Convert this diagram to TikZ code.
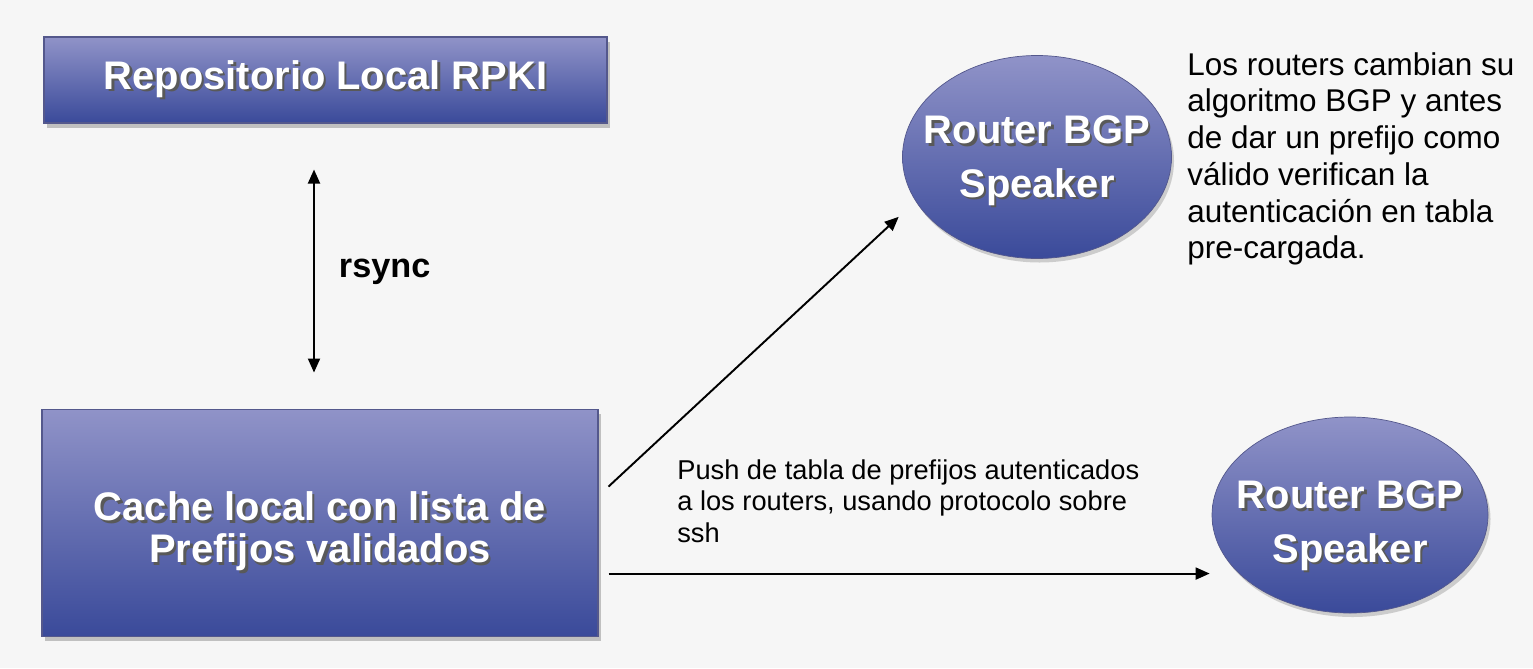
\documentclass[tikz,border=0pt]{standalone}
\usepackage{fontspec}
\setmainfont{Liberation Sans}
\usepackage{tikz}
\usetikzlibrary{shapes.geometric, arrows.meta, positioning, shadows}
\definecolor{boxtop}{RGB}{144,147,200}
\definecolor{boxbottom}{RGB}{58,74,154}
\definecolor{boxline}{RGB}{84,88,140}
\definecolor{bgcolor}{RGB}{246,246,246}
\newcommand{\shtx}[1]{\leavevmode\rlap{\kern0.06em\raisebox{-0.06em}{\color{black!65}#1}}#1}

\begin{document}
\begin{tikzpicture}[
    block/.style={draw=boxline, line width=0.6pt, top color=boxtop, bottom color=boxbottom, drop shadow={shadow xshift=0.05cm, shadow yshift=-0.09cm, opacity=0.45}, text=white, font=\bfseries\fontsize{22.7}{24}\selectfont, align=center},
    router/.style={ellipse, draw=boxline, line width=0.4pt, top color=boxtop, bottom color=boxbottom, drop shadow={shadow xshift=0.05cm, shadow yshift=-0.08cm, opacity=0.35}, inner sep=0pt},
    rtext/.style={text=white, font=\bfseries\fontsize{22.7}{30.6}\selectfont, align=center},
    note/.style={font=\fontsize{17.9}{20.9}\selectfont, align=left, inner sep=0pt, anchor=north west},
    arrow/.style={-{Triangle[length=0.28cm, width=0.24cm]}, line width=1.1pt},
    biarrow/.style={{Triangle[length=0.28cm, width=0.24cm]}-{Triangle[length=0.28cm, width=0.24cm]}, line width=1.1pt},
    tag/.style={font=\bfseries\fontsize{19.5}{22}\selectfont, inner sep=0pt}
]
    \fill[bgcolor, use as bounding box] (0,0) rectangle (30.66,-13.36);

    % Main entities
    \node[block, minimum width=11.26cm, minimum height=1.72cm] (repo) at (6.51,-1.6) {\shtx{Repositorio Local RPKI}};
    \node[block, minimum width=11.12cm, minimum height=4.54cm, below=5.7cm of repo, xshift=-0.11cm] (cache) {\rule{0pt}{0.98cm}\shtx{Cache local con lista de}\\\shtx{Prefijos validados}};
    \node[router, minimum width=5.38cm, minimum height=4.06cm, label={[rtext, yshift=-0.1cm]center:{\shtx{Router BGP}\\\shtx{Speaker}}}] (r1) at (20.74,-3.14) {};
    \node[router, minimum width=5.52cm, minimum height=3.92cm, label={[rtext, yshift=-0.24cm]center:{\shtx{Router BGP}\\\shtx{Speaker}}}] (r2) at (27.0,-10.3) {};

    % Notes
    \node[note] (algo) at (23.74,-1.04) {Los routers cambian su\\algoritmo BGP y antes\\de dar un prefijo como\\válido verifican la\\autenticación en tabla\\pre-cargada.};
    \node[note, font=\fontsize{15.5}{18.1}\selectfont] (push) at (13.54,-9.18) {Push de tabla de prefijos autenticados\\a los routers, usando protocolo sobre\\ssh};

    % Relationships
    \draw[biarrow, shorten <=0.92cm, shorten >=0.72cm] ([xshift=-0.23cm]repo.south) -- ([xshift=-0.12cm]cache.north) node[tag, pos=0.52, right=0.48cm] (sync) {rsync};
    \draw[arrow, shorten >=0.46cm] ([xshift=0.2cm, yshift=0.72cm]cache.east) -- (r1.200);
    \draw[arrow, shorten >=0.04cm] ([xshift=0.2cm, yshift=-1.02cm]cache.east) coordinate (pstart) -- (pstart -| r2.west);

\end{tikzpicture}
\end{document}
